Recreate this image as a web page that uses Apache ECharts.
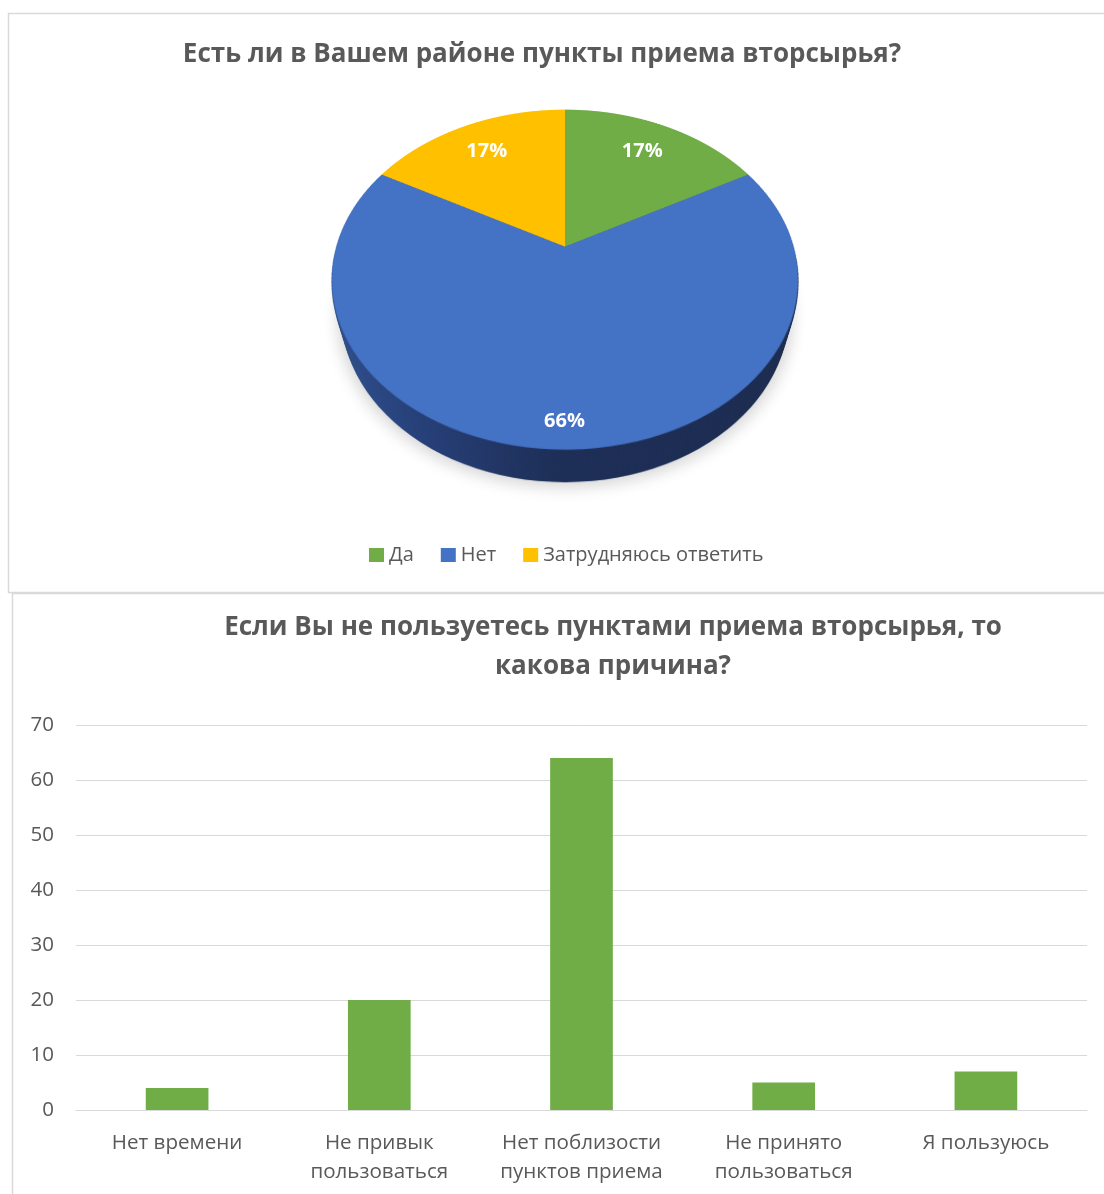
<!DOCTYPE html>
<html>
<head>
<meta charset="utf-8">
<script src="https://cdn.jsdelivr.net/npm/echarts@6/dist/echarts.min.js"></script>
<style>
  html, body { margin: 0; padding: 0; background: #ffffff; }
  #page { position: relative; width: 1104px; height: 1194px; overflow: hidden; }
  /* 3D stage for the tilted pie: perspective eye sits over the pie centre */
  #pieStage { position: absolute; left: 324.5px; top: 7px; width: 480px; height: 480px;
              perspective: 823px; perspective-origin: 240px 240px; z-index: 0; }
  #pieTilt  { position: absolute; left: 0; top: 0; width: 480px; height: 480px;
              transform-style: preserve-3d; transform-origin: 240px 240px; transform: rotateX(44.3deg); }
  .wall     { position: absolute; left: 11.4px; top: 11.4px; width: 457.2px; height: 457.2px; border-radius: 50%;
              background: linear-gradient(to right, #30508e 0%, #26407a 22%, #1d2e57 48%, #1b2a4e 100%); }
  #pieTop   { position: absolute; left: 0; top: 0; width: 480px; height: 480px; transform: translateZ(0.5px); }
  #main     { position: absolute; left: 0; top: 0; width: 1104px; height: 1194px; z-index: 1; }
</style>
</head>
<body>
<div id="page">
  <div id="pieStage"><div id="pieTilt"></div></div>
  <div id="main"></div>
</div>
<script>
// ---- data ----
const pieTitle = 'Есть ли в Вашем районе пункты приема вторсырья?';
const pieCategories = ['Да', 'Нет', 'Затрудняюсь ответить'];
const pieValues = [17, 66, 17];
const pieColors = ['#70ad47', '#4472c4', '#ffc000'];

const barTitle = 'Если Вы не пользуетесь пунктами приема вторсырья, то\nкакова причина?';
const barCategories = ['Нет времени', 'Не привык\nпользоваться', 'Нет поблизости\nпунктов приема', 'Не принято\nпользоваться', 'Я пользуюсь'];
const barValues = [4, 20, 64, 5, 7];
const barColor = '#70ad47';
const yMin = 0, yMax = 70, yStep = 10;

// ---- look ----
const FONT = '"Open Sans", "Noto Sans", sans-serif';
const TEXT = '#595959';
const GRID = '#d9d9d9';

// pie geometry (local plane of the tilted disc)
const PIE_R = 228.6;          // disc radius
const TILT_DEG = 44.3;        // rotateX of the disc
const EYE = 823;              // perspective distance
const APEX = [564.5, 247];    // screen position of the disc centre
const WALL_DEPTH = 52, WALL_STEPS = 40;

// side wall of the disc: stacked dark discs going down along the disc normal
const tilt = document.getElementById('pieTilt');
for (let i = WALL_STEPS; i >= 1; i--) {
  const el = document.createElement('div');
  el.className = 'wall';
  el.style.transform = 'translateZ(' + (-WALL_DEPTH * i / WALL_STEPS) + 'px)';
  if (i === WALL_STEPS) el.style.boxShadow = '0 0 14px 5px rgba(0,0,0,0.16)';
  tilt.appendChild(el);
}
const topDiv = document.createElement('div');
topDiv.id = 'pieTop';
tilt.appendChild(topDiv);

const pieData = pieCategories.map((n, i) => ({ name: n, value: pieValues[i], itemStyle: { color: pieColors[i] } }));

// top face of the disc
const pieChart = echarts.init(topDiv, null, { renderer: 'canvas', devicePixelRatio: 2 });
pieChart.setOption({
  animation: false,
  series: [{
    type: 'pie', center: ['50%', '50%'], radius: PIE_R, startAngle: 90, clockwise: true,
    label: { show: false }, labelLine: { show: false }, emphasis: { disabled: true },
    itemStyle: { borderWidth: 0 }, silent: true,
    data: pieData
  }]
});

// project a point of the disc plane (x right, y down from centre) to the screen
function project(x, y) {
  const a = TILT_DEG * Math.PI / 180;
  const yw = y * Math.cos(a), zw = y * Math.sin(a);
  const f = EYE / (EYE - zw);
  return [x * f, yw * f];
}

// percentage labels placed along each slice's mid-angle, in screen space
const LABEL_KX = 0.78, LABEL_KY = 0.834, LABEL_DY = 4.7;
const total = pieValues.reduce((s, v) => s + v, 0);
const labelEls = [];
let acc = 0;
pieValues.forEach((v) => {
  const mid = (acc + v / 2) / total * 2 * Math.PI;
  acc += v;
  const rim = project(PIE_R * Math.sin(mid), -PIE_R * Math.cos(mid));
  labelEls.push({
    type: 'text', x: APEX[0] + rim[0] * LABEL_KX, y: APEX[1] + rim[1] * LABEL_KY + LABEL_DY, z: 10, silent: true,
    style: { text: Math.round(v / total * 100) + '%', fill: '#ffffff', fontFamily: FONT,
             fontSize: 20, fontWeight: 'bold', align: 'center', verticalAlign: 'middle' }
  });
});

const main = echarts.init(document.getElementById('main'));
main.setOption({
  animation: false,
  backgroundColor: 'transparent',
  textStyle: { fontFamily: FONT },
  title: [
    { text: pieTitle, left: 542, top: 40, textAlign: 'center', padding: 0,
      textStyle: { fontFamily: FONT, fontSize: 26, fontWeight: 'bold', color: TEXT, lineHeight: 30 } },
    { text: barTitle, left: 613, top: 608, textAlign: 'center', padding: 0,
      textStyle: { fontFamily: FONT, fontSize: 26, fontWeight: 'bold', color: TEXT, lineHeight: 39, align: 'center' } }
  ],
  legend: {
    left: 369, top: 545, orient: 'horizontal', icon: 'rect', itemWidth: 15, itemHeight: 14, itemGap: 27,
    selectedMode: false, padding: 0,
    textStyle: { fontFamily: FONT, fontSize: 20, color: TEXT },
    data: pieCategories
  },
  grid: { left: 76, right: 17, top: 725, bottom: 84 },
  xAxis: {
    type: 'category', data: barCategories,
    axisLine: { show: true, lineStyle: { color: GRID, width: 1 } },
    axisTick: { show: false },
    axisLabel: { interval: 0, fontFamily: FONT, fontSize: 20.6, color: TEXT, lineHeight: 29, margin: 19 }
  },
  yAxis: {
    type: 'value', min: yMin, max: yMax, interval: yStep,
    axisLine: { show: false }, axisTick: { show: false },
    axisLabel: { fontFamily: FONT, fontSize: 20.5, color: TEXT, margin: 22 },
    splitLine: { lineStyle: { color: GRID, width: 1 } }
  },
  series: [
    { type: 'bar', name: 'Причина', data: barValues, barWidth: '31%', silent: true,
      itemStyle: { color: barColor } },
    // carries the pie categories for the legend; the disc itself is drawn on the tilted layer
    { type: 'pie', name: pieTitle, radius: [0, 0], center: APEX, silent: true,
      label: { show: false }, labelLine: { show: false }, data: pieData }
  ],
  graphic: [
    { type: 'rect', silent: true, z: 0, shape: { x: 8.5, y: 13.5, width: 1200, height: 579 },
      style: { fill: 'none', stroke: GRID, lineWidth: 1.5 } },
    { type: 'rect', silent: true, z: 0, shape: { x: 12.5, y: 593.5, width: 1200, height: 700 },
      style: { fill: 'none', stroke: GRID, lineWidth: 1.5 } }
  ].concat(labelEls)
});
</script>
</body>
</html>
